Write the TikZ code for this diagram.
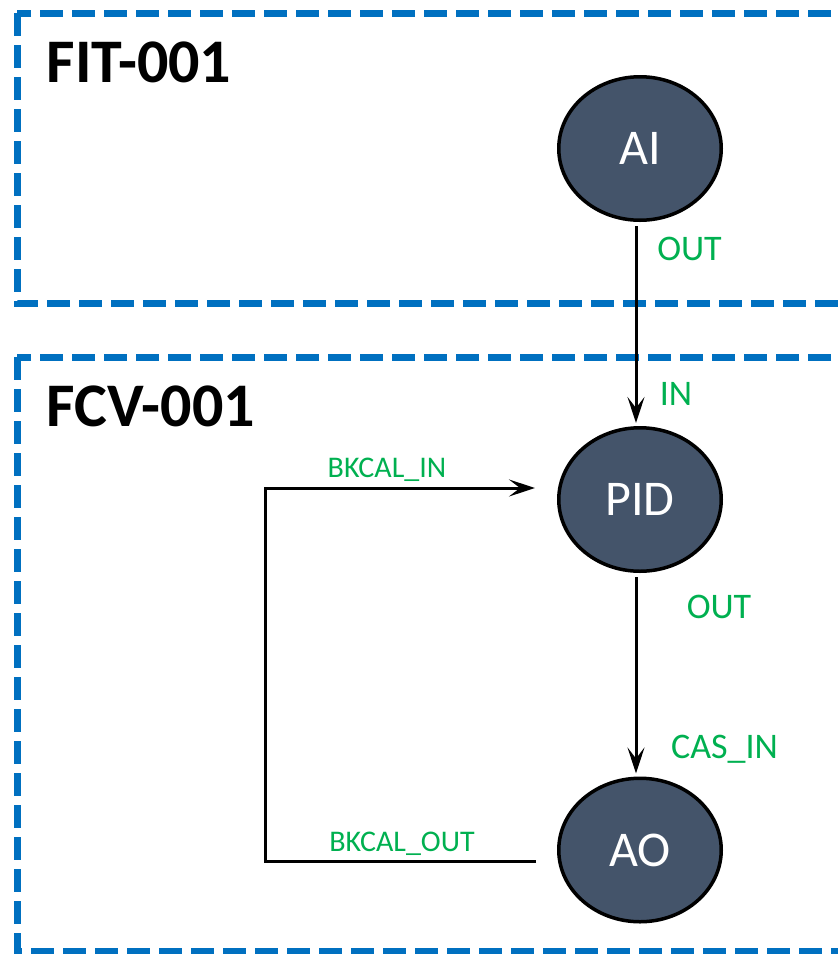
\documentclass[tikz,border=0pt]{standalone}
\usepackage{fontspec}
\setmainfont{Carlito}
\usetikzlibrary{shapes.geometric,arrows.meta}
\definecolor{zoneblue}{RGB}{0,112,192}
\definecolor{blockfill}{RGB}{68,84,106}
\definecolor{portgreen}{RGB}{0,176,80}
\begin{document}
\begin{tikzpicture}[x=1pt,y=-1pt,
        zone/.style={draw=zoneblue,line width=7pt,dash pattern=on 23pt off 9pt},
        block/.style={ellipse,draw,line width=3.5pt,fill=blockfill,text=white,minimum width=162.5pt,minimum height=143.5pt,inner sep=0pt,font=\fontsize{50}{50}\selectfont},
        title/.style={anchor=base,inner sep=0pt,font=\fontsize{62}{62}\selectfont\bfseries},
        port/.style={anchor=base,inner sep=0pt,text=portgreen,font=\fontsize{36}{36}\selectfont},
        bkport/.style={port,font=\fontsize{30}{30}\selectfont},
        link/.style={line width=3pt,-{Stealth[length=26pt,width=17pt,inset=11pt]}}]
        \useasboundingbox (0,0) rectangle (838,954);
        \clip (0,0) rectangle (838,954);

        \draw[zone] (17,13) rectangle (870,303);
        \draw[zone] (17,357) rectangle (870,951);
        \node[title] (fit) at (139,82) {FIT-001};
        \node[title] (fcv) at (151,426.7) {FCV-001};

        \node[block] (ai) at (640,148.5) {AI};
        \node[block] (pid) at (640,499.5) {PID};
        \node[block] (ao) at (640,850) {AO};

        \draw[link] ([xshift=-4pt,yshift=-4pt]ai.south) -- ([xshift=-4pt,yshift=3pt]pid.north);
        \draw[link] ([xshift=-4pt,yshift=-4pt]pid.south) -- ([xshift=-4pt,yshift=3pt]ao.north);
        \coordinate (loopb) at (265,861);
        \coordinate (loopt) at (265,488);
        \draw[link] ([xshift=-21pt,yshift=-11pt]ao.west) -- (loopb) -- (loopt) -- ([xshift=-22pt,yshift=11.5pt]pid.west);

        \node[port] (aiout) at (689.5,260) {OUT};
        \node[port] (pidin) at (676,405) {IN};
        \node[port] (pidout) at (719,618.3) {OUT};
        \node[port] (aoin) at (724.5,758) {CAS\_IN};
        \node[bkport] (bkin) at (387,477) {BKCAL\_IN};
        \node[bkport] (bkout) at (402,851) {BKCAL\_OUT};
    \end{tikzpicture}
\end{document}
